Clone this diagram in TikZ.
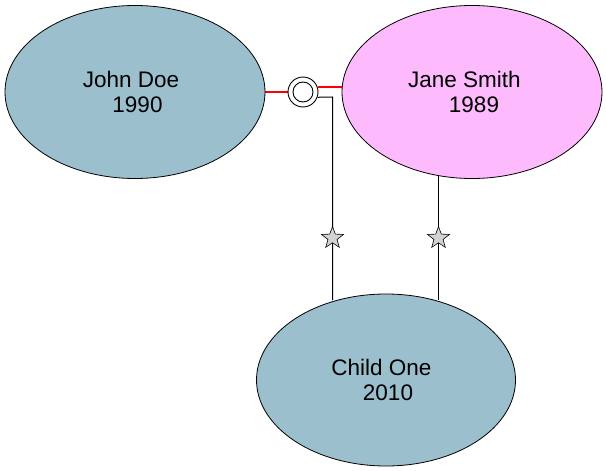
\documentclass[tikz,border=0pt]{standalone}
\usepackage{fontspec}
\setmainfont{Liberation Sans}
\usetikzlibrary{shapes.geometric,backgrounds}
\definecolor{bluefill}{HTML}{9BBFCC}
\definecolor{pinkfill}{HTML}{FDBBFD}
\definecolor{stargray}{HTML}{D3D3D3}
\tikzset{
  person/.style={ellipse, draw=black, line width=0.8pt, minimum width=260pt, minimum height=173pt, inner sep=0pt,
    align=center, font=\fontsize{22.5}{25}\selectfont},
  marriage/.style={circle, draw=black, fill=white, line width=0.9pt, minimum size=30pt, inner sep=0pt},
  innerring/.style={circle, draw=black, line width=0.9pt, minimum size=20pt, inner sep=0pt},
  childstar/.style={star, star points=5, star point ratio=2.4, draw=black, fill=stargray, line width=0.6pt, minimum size=23pt, inner sep=0pt},
  redline/.style={draw=red, line width=2pt},
  kidline/.style={draw=black, line width=1pt}
}
\begin{document}
\begin{tikzpicture}[x=1pt,y=-1pt]
\useasboundingbox (0,0) rectangle (606,471);
\node[person, fill=bluefill] (john) at (135,92) {\hspace*{-8pt}John Doe\\\hspace*{5pt}1990};
\node[person, fill=pinkfill] (jane) at (472,92) {\hspace*{-15pt}Jane Smith\\\hspace*{4pt}1989};
\node[person, fill=bluefill, minimum width=259pt, minimum height=172pt] (child) at (386,380) {\hspace*{-9pt}Child One\\\hspace*{4pt}2010};
\node[marriage] (m) at (303,92) {};
\node[innerring] (mi) at (303,92) {};
\coordinate (c1) at (332.5,97);
\coordinate (c1b) at (332.5,300);
\coordinate (j1) at (438.5,176);
\coordinate (j1b) at (438.5,300);
\begin{scope}[on background layer]
  \draw[redline] (john.east) -- (m.west);
  \draw[redline] (m.20) -- (m.20 -| jane.west);
  \draw[kidline] (m.-20) -- (c1) -- (c1b);
  \draw[kidline] (j1) -- (j1b);
\end{scope}
\node[childstar] (s1) at (332.5,238) {};
\node[childstar] (s2) at (438.5,238) {};
\end{tikzpicture}
\end{document}
